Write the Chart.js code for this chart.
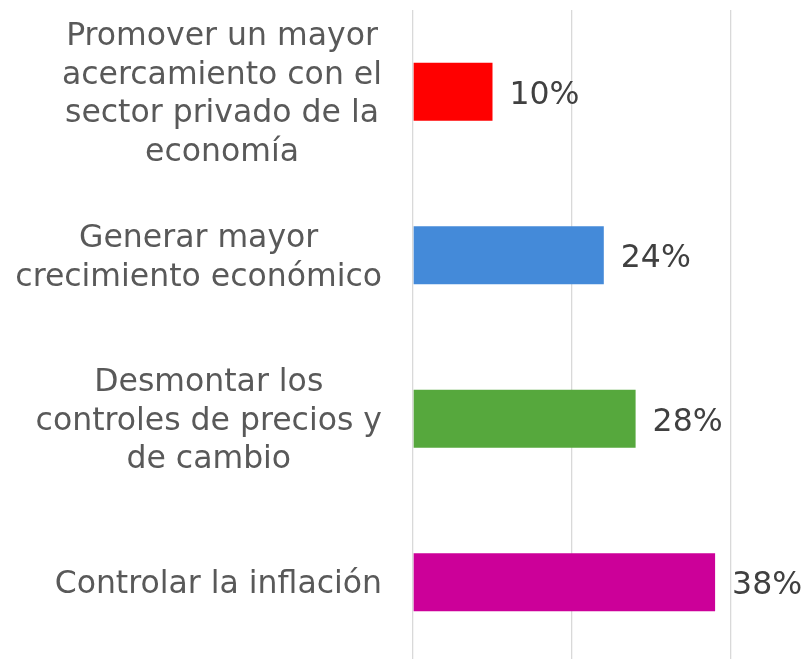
<!DOCTYPE html>
<html>
<head>
<meta charset="utf-8">
<script src="https://cdn.jsdelivr.net/npm/chart.js@4/dist/chart.umd.min.js"></script>
<style>
  html, body { margin: 0; padding: 0; background: #fff; }
  #wrap { width: 807px; height: 659px; overflow: hidden; }
</style>
</head>
<body>
<div id="wrap"><canvas id="myChart" width="807" height="664"></canvas></div>
<script>
// Categories (each one split into its display lines)
const categories = [
    ['Promover un mayor', 'acercamiento con el', 'sector privado de la', 'economía'],
    ['Generar mayor', 'crecimiento económico'],
    ['Desmontar los', 'controles de precios y', 'de cambio'],
    ['Controlar la inflación']
];
const values = [10, 24, 28, 38];
const barColors = ['#FF0000', '#448AD9', '#56A83D', '#CC0099'];
const xTicks = [0, 20, 40];

const FONT = '"DejaVu Sans", Verdana, sans-serif';

// Category labels: each block right-aligned to the axis, lines centered inside the block
const categoryLabels = {
    id: 'categoryLabels',
    afterDraw(chart) {
        const ctx = chart.ctx;
        const yScale = chart.scales.y;
        const right = chart.chartArea.left - 31;
        const lineHeight = 38.5;
        ctx.save();
        ctx.font = '31.5px ' + FONT;
        ctx.fillStyle = '#595959';
        ctx.textAlign = 'center';
        ctx.textBaseline = 'middle';
        categories.forEach((lines, i) => {
            const w = Math.max(...lines.map(l => ctx.measureText(l).width));
            const cx = right - w / 2;
            const cy = yScale.getPixelForTick(i) + 3;
            const top = cy - (lines.length - 1) * lineHeight / 2;
            lines.forEach((l, j) => ctx.fillText(l, cx, top + j * lineHeight));
        });
        ctx.restore();
    }
};

// Value labels at the end of each bar
const valueLabels = {
    id: 'valueLabels',
    afterDatasetsDraw(chart) {
        const ctx = chart.ctx;
        const meta = chart.getDatasetMeta(0);
        ctx.save();
        ctx.font = '31.5px ' + FONT;
        ctx.fillStyle = '#404040';
        ctx.textAlign = 'left';
        ctx.textBaseline = 'middle';
        meta.data.forEach((bar, i) => {
            ctx.fillText(values[i] + '%', bar.x + 17, bar.y + 4);
        });
        ctx.restore();
    }
};

const ctx = document.getElementById('myChart').getContext('2d');
new Chart(ctx, {
    type: 'bar',
    data: {
        labels: categories.map(c => c.join(' ')),
        datasets: [{
            data: values,
            backgroundColor: barColors,
            borderWidth: 0,
            barPercentage: 1,
            categoryPercentage: 0.355
        }]
    },
    options: {
        indexAxis: 'y',
        responsive: false,
        animation: false,
        layout: {
            padding: { top: 10, right: 76, bottom: 0, left: 0 }
        },
        plugins: {
            legend: { display: false },
            tooltip: { enabled: false }
        },
        scales: {
            x: {
                min: 0,
                max: 40,
                afterBuildTicks: scale => {
                    scale.ticks = xTicks.map(v => ({ value: v }));
                },
                ticks: { display: false },
                grid: { color: '#D9D9D9', lineWidth: 1.3, drawTicks: false },
                border: { display: false }
            },
            y: {
                ticks: { display: false },
                grid: { display: false },
                border: { display: false },
                afterFit: scale => { scale.width = 413; }
            }
        }
    },
    plugins: [categoryLabels, valueLabels]
});
</script>
</body>
</html>
